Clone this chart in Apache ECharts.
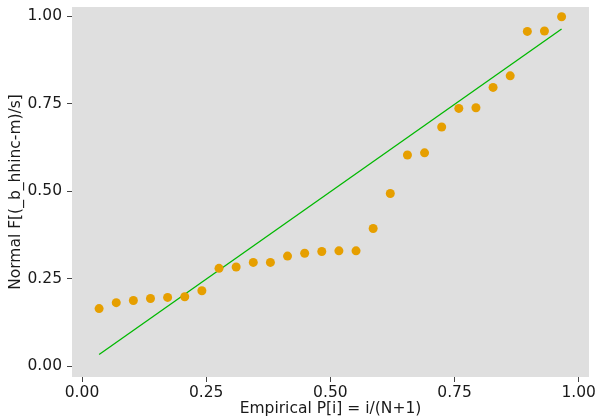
<!DOCTYPE html>
<html>
<head>
<meta charset="utf-8">
<script src="https://cdn.jsdelivr.net/npm/echarts@6/dist/echarts.min.js"></script>
<style>
html,body{margin:0;padding:0;background:#fff;}
#chart{width:598px;height:417px;}
</style>
</head>
<body>
<div id="chart"></div>
<script>
var N = 28;
var empiricalP = [];
for (var i = 1; i <= N; i++) { empiricalP.push(i / (N + 1)); }
var normalF = [0.164, 0.181, 0.187, 0.193, 0.196, 0.198, 0.215, 0.279, 0.283, 0.296,
               0.296, 0.314, 0.322, 0.327, 0.329, 0.329, 0.393, 0.493, 0.603, 0.609,
               0.683, 0.736, 0.738, 0.796, 0.829, 0.956, 0.957, 0.998];
var refLineX = [1 / 29, 28 / 29];
var refLineY = [0.033, 0.963];
var tickValues = [0, 0.25, 0.5, 0.75, 1];

var points = empiricalP.map(function (x, k) { return [x, normalF[k]]; });
var refLine = refLineX.map(function (x, k) { return [x, refLineY[k]]; });

var chart = echarts.init(document.getElementById('chart'), null, {renderer: 'canvas'});
var font = 'DejaVu Sans';
var textColor = '#1a1a1a';
chart.setOption({
  animation: false,
  backgroundColor: '#ffffff',
  grid: {left: 72, right: 9, top: 7, bottom: 40, show: true, backgroundColor: '#dfdfdf', borderWidth: 0,
         containLabel: false, outerBoundsMode: 'none'},
  xAxis: {
    type: 'value', min: -0.0201, max: 1.0207,
    name: 'Empirical P[i] = i/(N+1)', nameLocation: 'middle', nameGap: 24, nameMoveOverlap: false,
    nameTextStyle: {fontFamily: font, fontSize: 15.5, color: textColor},
    axisLine: {show: false, onZero: false},
    splitLine: {show: false},
    axisTick: {show: true, length: 5, customValues: tickValues, lineStyle: {color: '#444', width: 1}},
    axisLabel: {customValues: tickValues, margin: 8, fontFamily: font, fontSize: 15.5, color: textColor,
      formatter: function (v) { return v.toFixed(2); }}
  },
  yAxis: {
    type: 'value', min: -0.0314, max: 1.0257,
    name: 'Normal F[(_b_hhinc-m)/s]', nameLocation: 'middle', nameGap: 48, nameRotate: 90, nameMoveOverlap: false,
    nameTextStyle: {fontFamily: font, fontSize: 15.5, color: textColor},
    axisLine: {show: false, onZero: false},
    splitLine: {show: false},
    axisTick: {show: true, length: 5, customValues: tickValues, lineStyle: {color: '#444', width: 1}},
    axisLabel: {customValues: tickValues, margin: 10, fontFamily: font, fontSize: 15.5, color: textColor,
      formatter: function (v) { return v.toFixed(2); }}
  },
  series: [
    {type: 'line', data: refLine, symbol: 'none', lineStyle: {color: '#00b800', width: 1.3}, z: 2},
    {type: 'scatter', data: points, symbol: 'circle', symbolSize: 9, itemStyle: {color: '#e69f00', opacity: 1}, z: 3}
  ]
});
</script>
</body>
</html>
